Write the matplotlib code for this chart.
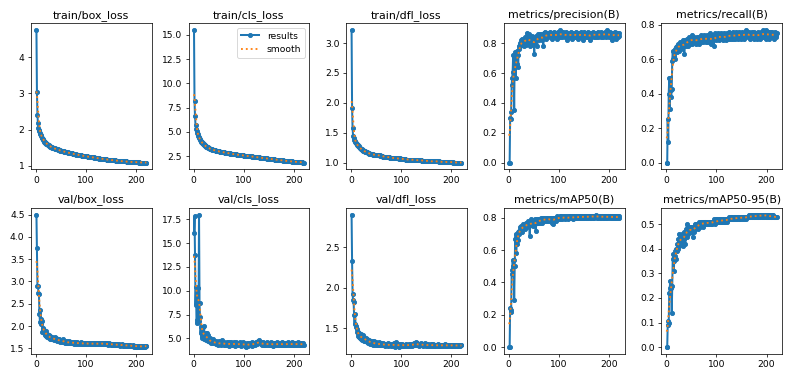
import numpy as np
import matplotlib
matplotlib.use("Agg")
import matplotlib.pyplot as plt

titles = ["train/box_loss", "train/cls_loss", "train/dfl_loss", "metrics/precision(B)", "metrics/recall(B)",
          "val/box_loss", "val/cls_loss", "val/dfl_loss", "metrics/mAP50(B)", "metrics/mAP50-95(B)"]

train_box_loss = [
    4.75, 3.05, 2.40, 2.17, 2.05, 2.00, 1.95, 1.91, 1.87, 1.84,
    1.81, 1.78, 1.76, 1.73, 1.71, 1.69, 1.67, 1.66, 1.64, 1.63,
    1.61, 1.60, 1.59, 1.58, 1.57, 1.56, 1.55, 1.54, 1.53, 1.52,
    1.52, 1.51, 1.50, 1.50, 1.49, 1.48, 1.48, 1.47, 1.47, 1.46,
    1.46, 1.45, 1.45, 1.44, 1.44, 1.43, 1.43, 1.42, 1.42, 1.42,
    1.41, 1.41, 1.40, 1.40, 1.40, 1.39, 1.39, 1.38, 1.38, 1.38,
    1.37, 1.37, 1.37, 1.36, 1.36, 1.36, 1.35, 1.35, 1.35, 1.34,
    1.34, 1.34, 1.33, 1.33, 1.33, 1.32, 1.32, 1.32, 1.32, 1.31,
    1.31, 1.31, 1.30, 1.30, 1.30, 1.30, 1.29, 1.29, 1.29, 1.29,
    1.28, 1.28, 1.28, 1.28, 1.27, 1.27, 1.27, 1.27, 1.26, 1.26,
    1.26, 1.26, 1.25, 1.25, 1.25, 1.25, 1.24, 1.24, 1.24, 1.24,
    1.24, 1.23, 1.23, 1.23, 1.23, 1.22, 1.22, 1.22, 1.22, 1.22,
    1.21, 1.21, 1.21, 1.21, 1.21, 1.20, 1.20, 1.20, 1.20, 1.20,
    1.19, 1.19, 1.19, 1.19, 1.19, 1.18, 1.18, 1.18, 1.18, 1.18,
    1.17, 1.17, 1.17, 1.17, 1.17, 1.17, 1.16, 1.16, 1.16, 1.16,
    1.16, 1.16, 1.15, 1.15, 1.15, 1.15, 1.15, 1.15, 1.14, 1.14,
    1.14, 1.14, 1.14, 1.14, 1.14, 1.13, 1.13, 1.13, 1.13, 1.13,
    1.13, 1.13, 1.12, 1.12, 1.12, 1.12, 1.12, 1.12, 1.12, 1.12,
    1.11, 1.11, 1.11, 1.11, 1.11, 1.11, 1.11, 1.11, 1.11, 1.11,
    1.11, 1.10, 1.10, 1.10, 1.10, 1.10, 1.10, 1.10, 1.10, 1.10,
    1.10, 1.10, 1.10, 1.10, 1.09, 1.10, 1.09, 1.09, 1.09, 1.09,
    1.09, 1.09, 1.09, 1.09, 1.09, 1.09, 1.09, 1.09, 1.09, 1.09]

train_cls_loss = [
    15.5, 8.2, 6.6, 5.7, 5.3, 5.1, 4.9, 4.75, 4.6, 4.5,
    4.4, 4.3, 4.2, 4.1, 4.0, 3.95, 3.88, 3.82, 3.76, 3.70,
    3.66, 3.61, 3.57, 3.53, 3.49, 3.46, 3.43, 3.40, 3.37, 3.33,
    3.30, 3.28, 3.26, 3.24, 3.22, 3.20, 3.18, 3.16, 3.15, 3.13,
    3.12, 3.10, 3.08, 3.07, 3.05, 3.04, 3.02, 3.01, 3.00, 2.99,
    2.98, 2.97, 2.96, 2.95, 2.94, 2.93, 2.92, 2.91, 2.90, 2.89,
    2.88, 2.87, 2.86, 2.85, 2.84, 2.83, 2.82, 2.81, 2.80, 2.79,
    2.78, 2.77, 2.76, 2.76, 2.75, 2.74, 2.73, 2.72, 2.71, 2.70,
    2.70, 2.69, 2.68, 2.67, 2.67, 2.66, 2.65, 2.64, 2.64, 2.63,
    2.62, 2.62, 2.61, 2.60, 2.60, 2.59, 2.58, 2.58, 2.57, 2.56,
    2.56, 2.55, 2.54, 2.54, 2.53, 2.52, 2.52, 2.51, 2.50, 2.50,
    2.49, 2.48, 2.48, 2.47, 2.46, 2.46, 2.45, 2.44, 2.44, 2.43,
    2.42, 2.42, 2.41, 2.40, 2.40, 2.39, 2.38, 2.38, 2.37, 2.36,
    2.36, 2.35, 2.34, 2.34, 2.33, 2.32, 2.32, 2.31, 2.30, 2.30,
    2.29, 2.28, 2.28, 2.27, 2.26, 2.26, 2.25, 2.25, 2.24, 2.23,
    2.23, 2.22, 2.21, 2.21, 2.20, 2.19, 2.19, 2.18, 2.17, 2.17,
    2.16, 2.15, 2.15, 2.14, 2.13, 2.13, 2.12, 2.11, 2.11, 2.10,
    2.09, 2.09, 2.08, 2.07, 2.07, 2.06, 2.05, 2.05, 2.04, 2.03,
    2.03, 2.02, 2.02, 2.01, 2.00, 2.00, 1.99, 1.99, 1.98, 1.98,
    1.97, 1.97, 1.96, 1.96, 1.95, 1.95, 1.94, 1.94, 1.93, 1.93,
    1.92, 1.92, 1.91, 1.91, 1.90, 1.90, 1.89, 1.89, 1.88, 1.88,
    1.87, 1.87, 1.86, 1.86, 1.85, 1.85, 1.85, 1.84, 1.84, 1.84]

train_dfl_loss = [
    3.22, 1.92, 1.57, 1.45, 1.41, 1.38, 1.36, 1.34, 1.33, 1.32,
    1.31, 1.30, 1.29, 1.28, 1.27, 1.26, 1.25, 1.24, 1.23, 1.23,
    1.22, 1.21, 1.21, 1.20, 1.20, 1.19, 1.19, 1.18, 1.18, 1.17,
    1.17, 1.17, 1.16, 1.16, 1.16, 1.15, 1.15, 1.15, 1.14, 1.14,
    1.14, 1.14, 1.14, 1.13, 1.13, 1.13, 1.13, 1.13, 1.13, 1.13,
    1.13, 1.13, 1.12, 1.12, 1.12, 1.12, 1.12, 1.11, 1.11, 1.11,
    1.11, 1.11, 1.10, 1.10, 1.10, 1.10, 1.10, 1.10, 1.10, 1.09,
    1.09, 1.09, 1.09, 1.09, 1.09, 1.09, 1.08, 1.08, 1.08, 1.08,
    1.08, 1.08, 1.08, 1.08, 1.08, 1.07, 1.07, 1.07, 1.07, 1.07,
    1.07, 1.07, 1.07, 1.07, 1.07, 1.06, 1.07, 1.06, 1.06, 1.06,
    1.06, 1.06, 1.06, 1.06, 1.06, 1.06, 1.06, 1.06, 1.05, 1.05,
    1.05, 1.05, 1.05, 1.05, 1.05, 1.05, 1.05, 1.05, 1.05, 1.05,
    1.05, 1.05, 1.05, 1.04, 1.04, 1.04, 1.04, 1.04, 1.04, 1.04,
    1.04, 1.04, 1.04, 1.04, 1.04, 1.04, 1.04, 1.04, 1.04, 1.04,
    1.03, 1.03, 1.03, 1.03, 1.03, 1.03, 1.03, 1.03, 1.03, 1.03,
    1.03, 1.03, 1.03, 1.03, 1.03, 1.02, 1.02, 1.02, 1.02, 1.02,
    1.02, 1.02, 1.02, 1.02, 1.02, 1.02, 1.02, 1.02, 1.02, 1.02,
    1.02, 1.02, 1.02, 1.02, 1.02, 1.01, 1.01, 1.01, 1.01, 1.01,
    1.01, 1.01, 1.01, 1.01, 1.01, 1.01, 1.01, 1.01, 1.01, 1.01,
    1.01, 1.01, 1.01, 1.01, 1.01, 1.01, 1.01, 1.01, 1.01, 1.01,
    1.01, 1.01, 1.00, 1.01, 1.00, 1.00, 1.00, 1.00, 1.00, 1.00,
    1.00, 1.00, 1.00, 1.00, 1.00, 1.00, 1.00, 1.00, 1.00, 1.00]

precision = [
    0.00, 0.00, 0.30, 0.29, 0.34, 0.52, 0.57, 0.61, 0.72, 0.63,
    0.35, 0.70, 0.74, 0.57, 0.70, 0.75, 0.66, 0.72, 0.64, 0.78,
    0.76, 0.80, 0.78, 0.82, 0.79, 0.81, 0.83, 0.80, 0.82, 0.78,
    0.81, 0.84, 0.80, 0.83, 0.79, 0.87, 0.82, 0.85, 0.80, 0.86,
    0.81, 0.83, 0.78, 0.84, 0.80, 0.85, 0.82, 0.79, 0.84, 0.81,
    0.73, 0.83, 0.80, 0.85, 0.82, 0.84, 0.78, 0.86, 0.83, 0.85,
    0.82, 0.84, 0.86, 0.83, 0.85, 0.82, 0.86, 0.84, 0.78, 0.87,
    0.85, 0.88, 0.84, 0.86, 0.83, 0.87, 0.85, 0.86, 0.84, 0.87,
    0.85, 0.86, 0.88, 0.84, 0.87, 0.85, 0.83, 0.87, 0.86, 0.85,
    0.88, 0.84, 0.86, 0.87, 0.85, 0.83, 0.86, 0.88, 0.85, 0.87,
    0.86, 0.84, 0.89, 0.85, 0.87, 0.86, 0.84, 0.88, 0.85, 0.86,
    0.87, 0.84, 0.86, 0.85, 0.88, 0.86, 0.82, 0.87, 0.85, 0.86,
    0.84, 0.87, 0.85, 0.88, 0.86, 0.83, 0.87, 0.85, 0.86, 0.84,
    0.87, 0.85, 0.86, 0.88, 0.84, 0.86, 0.85, 0.87, 0.83, 0.86,
    0.85, 0.87, 0.86, 0.84, 0.88, 0.85, 0.86, 0.87, 0.82, 0.86,
    0.88, 0.85, 0.86, 0.84, 0.87, 0.85, 0.86, 0.88, 0.84, 0.86,
    0.85, 0.82, 0.87, 0.86, 0.84, 0.87, 0.85, 0.86, 0.88, 0.84,
    0.86, 0.87, 0.85, 0.84, 0.87, 0.86, 0.85, 0.88, 0.84, 0.86,
    0.85, 0.87, 0.86, 0.84, 0.88, 0.85, 0.86, 0.87, 0.84, 0.86,
    0.87, 0.85, 0.88, 0.86, 0.84, 0.87, 0.89, 0.85, 0.86, 0.84,
    0.86, 0.88, 0.85, 0.87, 0.82, 0.86, 0.85, 0.87, 0.84, 0.86,
    0.88, 0.85, 0.86, 0.83, 0.87, 0.85, 0.86, 0.84, 0.87, 0.85]

recall = [
    0.00, 0.00, 0.25, 0.12, 0.40, 0.49, 0.31, 0.49, 0.42, 0.38,
    0.43, 0.59, 0.65, 0.60, 0.64, 0.62, 0.66, 0.60, 0.65, 0.67,
    0.64, 0.68, 0.66, 0.69, 0.65, 0.68, 0.70, 0.67, 0.69, 0.66,
    0.70, 0.68, 0.71, 0.67, 0.70, 0.63, 0.69, 0.71, 0.68, 0.70,
    0.72, 0.69, 0.70, 0.68, 0.71, 0.73, 0.70, 0.69, 0.72, 0.71,
    0.74, 0.69, 0.72, 0.70, 0.71, 0.73, 0.70, 0.72, 0.69, 0.71,
    0.73, 0.70, 0.72, 0.71, 0.69, 0.73, 0.71, 0.72, 0.74, 0.70,
    0.72, 0.71, 0.73, 0.70, 0.72, 0.74, 0.71, 0.73, 0.70, 0.72,
    0.71, 0.74, 0.72, 0.70, 0.73, 0.71, 0.75, 0.72, 0.69, 0.73,
    0.72, 0.70, 0.74, 0.71, 0.68, 0.73, 0.72, 0.75, 0.71, 0.73,
    0.74, 0.72, 0.75, 0.73, 0.71, 0.74, 0.72, 0.73, 0.75, 0.72,
    0.73, 0.74, 0.71, 0.73, 0.75, 0.72, 0.74, 0.73, 0.71, 0.74,
    0.72, 0.75, 0.73, 0.74, 0.72, 0.76, 0.73, 0.74, 0.72, 0.75,
    0.73, 0.74, 0.76, 0.72, 0.74, 0.73, 0.75, 0.72, 0.74, 0.76,
    0.73, 0.75, 0.72, 0.74, 0.76, 0.73, 0.75, 0.74, 0.72, 0.75,
    0.74, 0.76, 0.73, 0.75, 0.72, 0.74, 0.76, 0.73, 0.75, 0.77,
    0.74, 0.73, 0.75, 0.76, 0.73, 0.74, 0.72, 0.75, 0.74, 0.76,
    0.73, 0.75, 0.74, 0.72, 0.76, 0.74, 0.73, 0.75, 0.74, 0.72,
    0.75, 0.73, 0.76, 0.74, 0.73, 0.75, 0.72, 0.74, 0.76, 0.73,
    0.75, 0.74, 0.77, 0.73, 0.75, 0.76, 0.74, 0.72, 0.77, 0.75,
    0.73, 0.76, 0.74, 0.75, 0.72, 0.76, 0.74, 0.73, 0.75, 0.74,
    0.76, 0.73, 0.75, 0.74, 0.72, 0.75, 0.76, 0.74, 0.73, 0.75]

val_box_loss = [
    4.50, 3.75, 2.90, 2.90, 2.75, 2.72, 2.28, 2.10, 2.35, 2.15,
    2.05, 2.12, 1.87, 1.95, 1.86, 1.92, 1.84, 1.88, 1.80, 1.90,
    1.78, 1.83, 1.75, 1.81, 1.76, 1.74, 1.80, 1.72, 1.77, 1.73,
    1.71, 1.76, 1.70, 1.74, 1.72, 1.69, 1.75, 1.71, 1.68, 1.73,
    1.70, 1.67, 1.72, 1.69, 1.66, 1.70, 1.68, 1.65, 1.69, 1.67,
    1.64, 1.68, 1.66, 1.70, 1.65, 1.67, 1.63, 1.66, 1.64, 1.62,
    1.66, 1.63, 1.65, 1.61, 1.64, 1.66, 1.62, 1.64, 1.61, 1.65,
    1.63, 1.61, 1.64, 1.62, 1.60, 1.63, 1.65, 1.61, 1.63, 1.60,
    1.62, 1.64, 1.60, 1.62, 1.61, 1.63, 1.59, 1.62, 1.64, 1.61,
    1.60, 1.63, 1.61, 1.59, 1.62, 1.60, 1.63, 1.61, 1.59, 1.62,
    1.61, 1.59, 1.62, 1.60, 1.61, 1.63, 1.59, 1.61, 1.60, 1.62,
    1.60, 1.62, 1.59, 1.61, 1.60, 1.62, 1.60, 1.59, 1.61, 1.60,
    1.62, 1.60, 1.59, 1.61, 1.63, 1.60, 1.61, 1.59, 1.62, 1.60,
    1.61, 1.63, 1.60, 1.59, 1.61, 1.60, 1.62, 1.59, 1.61, 1.60,
    1.59, 1.61, 1.60, 1.58, 1.60, 1.62, 1.59, 1.60, 1.58, 1.60,
    1.59, 1.58, 1.60, 1.59, 1.57, 1.59, 1.60, 1.58, 1.59, 1.57,
    1.58, 1.60, 1.57, 1.58, 1.59, 1.57, 1.58, 1.56, 1.58, 1.57,
    1.59, 1.57, 1.56, 1.58, 1.57, 1.56, 1.58, 1.57, 1.55, 1.57,
    1.56, 1.58, 1.56, 1.55, 1.57, 1.56, 1.55, 1.57, 1.56, 1.55,
    1.56, 1.55, 1.57, 1.55, 1.56, 1.54, 1.56, 1.55, 1.54, 1.56,
    1.55, 1.54, 1.56, 1.55, 1.54, 1.55, 1.53, 1.55, 1.54, 1.56,
    1.54, 1.55, 1.53, 1.55, 1.54, 1.56, 1.54, 1.55, 1.55, 1.56]

val_cls_loss = [
    16.1, 17.8, 13.8, 8.5, 10.4, 6.6, 6.9, 10.3, 7.2, 6.8,
    18.0, 8.7, 7.3, 5.6, 6.2, 5.3, 5.0, 6.2, 5.4, 4.9,
    6.3, 5.2, 5.0, 5.6, 4.8, 5.6, 5.0, 4.7, 5.4, 4.9,
    4.7, 5.0, 4.6, 4.8, 4.5, 4.7, 4.6, 4.9, 4.5, 4.6,
    4.7, 4.5, 4.6, 4.4, 4.7, 4.5, 4.4, 4.6, 4.3, 4.5,
    4.7, 4.4, 4.5, 4.3, 4.6, 4.4, 4.8, 4.4, 4.5, 4.3,
    4.6, 4.4, 4.3, 4.5, 4.4, 4.6, 4.3, 4.5, 4.4, 4.2,
    4.6, 4.4, 4.5, 4.3, 4.6, 4.4, 4.3, 4.5, 4.4, 4.6,
    4.3, 4.5, 4.2, 4.4, 4.6, 4.3, 4.5, 4.4, 4.3, 4.5,
    4.4, 4.6, 4.3, 4.4, 4.2, 4.5, 4.4, 4.6, 4.3, 4.4,
    4.5, 4.3, 4.2, 4.4, 4.1, 4.3, 4.5, 4.2, 4.4, 4.3,
    4.5, 4.4, 4.3, 4.5, 4.4, 4.2, 4.6, 4.4, 4.3, 4.5,
    4.4, 4.3, 4.5, 4.4, 4.6, 4.5, 4.4, 4.6, 4.7, 4.5,
    4.8, 4.6, 4.5, 4.4, 4.6, 4.3, 4.5, 4.4, 4.6, 4.3,
    4.5, 4.4, 4.3, 4.5, 4.4, 4.6, 4.3, 4.4, 4.5, 4.3,
    4.4, 4.5, 4.3, 4.4, 4.6, 4.3, 4.4, 4.5, 4.2, 4.4,
    4.5, 4.3, 4.4, 4.5, 4.3, 4.4, 4.6, 4.3, 4.4, 4.5,
    4.3, 4.4, 4.5, 4.3, 4.4, 4.6, 4.3, 4.4, 4.5, 4.3,
    4.4, 4.5, 4.3, 4.4, 4.3, 4.5, 4.4, 4.6, 4.3, 4.4,
    4.5, 4.3, 4.4, 4.5, 4.3, 4.4, 4.6, 4.3, 4.4, 4.5,
    4.3, 4.4, 4.5, 4.3, 4.4, 4.5, 4.3, 4.4, 4.6, 4.3,
    4.4, 4.5, 4.3, 4.4, 4.5, 4.3, 4.4, 4.5, 4.4, 4.3]

val_dfl_loss = [
    2.90, 2.33, 1.92, 1.85, 1.83, 1.67, 1.55, 1.68, 1.52, 1.53,
    1.49, 1.46, 1.41, 1.45, 1.39, 1.44, 1.40, 1.38, 1.43, 1.37,
    1.40, 1.36, 1.42, 1.38, 1.35, 1.39, 1.37, 1.34, 1.38, 1.36,
    1.33, 1.37, 1.35, 1.32, 1.36, 1.34, 1.31, 1.35, 1.33, 1.32,
    1.34, 1.31, 1.33, 1.30, 1.32, 1.34, 1.31, 1.30, 1.33, 1.31,
    1.30, 1.32, 1.29, 1.31, 1.33, 1.30, 1.31, 1.29, 1.32, 1.30,
    1.31, 1.29, 1.30, 1.32, 1.29, 1.31, 1.30, 1.28, 1.30, 1.31,
    1.29, 1.30, 1.32, 1.28, 1.30, 1.29, 1.31, 1.29, 1.28, 1.30,
    1.31, 1.29, 1.28, 1.30, 1.32, 1.29, 1.27, 1.31, 1.33, 1.29,
    1.30, 1.28, 1.31, 1.29, 1.27, 1.30, 1.29, 1.31, 1.28, 1.30,
    1.29, 1.31, 1.28, 1.30, 1.29, 1.28, 1.30, 1.29, 1.31, 1.28,
    1.30, 1.29, 1.28, 1.30, 1.31, 1.29, 1.28, 1.30, 1.29, 1.31,
    1.30, 1.28, 1.31, 1.29, 1.30, 1.32, 1.29, 1.31, 1.33, 1.30,
    1.32, 1.30, 1.29, 1.31, 1.30, 1.28, 1.31, 1.29, 1.30, 1.32,
    1.29, 1.30, 1.28, 1.31, 1.29, 1.30, 1.32, 1.29, 1.30, 1.28,
    1.30, 1.29, 1.31, 1.28, 1.30, 1.29, 1.30, 1.28, 1.31, 1.29,
    1.30, 1.28, 1.29, 1.31, 1.28, 1.30, 1.29, 1.28, 1.30, 1.29,
    1.28, 1.30, 1.29, 1.31, 1.28, 1.29, 1.30, 1.28, 1.29, 1.30,
    1.29, 1.28, 1.30, 1.29, 1.28, 1.30, 1.29, 1.31, 1.28, 1.29,
    1.30, 1.28, 1.29, 1.30, 1.28, 1.29, 1.30, 1.29, 1.28, 1.30,
    1.29, 1.28, 1.30, 1.29, 1.28, 1.29, 1.30, 1.28, 1.29, 1.30,
    1.28, 1.29, 1.30, 1.28, 1.29, 1.30, 1.29, 1.28, 1.29, 1.29]

map50 = [
    0.00, 0.00, 0.24, 0.22, 0.23, 0.45, 0.48, 0.54, 0.50, 0.54,
    0.29, 0.50, 0.67, 0.70, 0.58, 0.64, 0.69, 0.71, 0.66, 0.72,
    0.70, 0.74, 0.72, 0.73, 0.75, 0.71, 0.74, 0.76, 0.73, 0.75,
    0.74, 0.76, 0.73, 0.77, 0.75, 0.74, 0.77, 0.76, 0.78, 0.75,
    0.77, 0.69, 0.76, 0.78, 0.79, 0.76, 0.77, 0.78, 0.75, 0.78,
    0.77, 0.79, 0.76, 0.72, 0.78, 0.77, 0.79, 0.78, 0.77, 0.79,
    0.78, 0.77, 0.79, 0.78, 0.80, 0.77, 0.79, 0.78, 0.80, 0.79,
    0.78, 0.79, 0.80, 0.78, 0.79, 0.80, 0.79, 0.78, 0.80, 0.79,
    0.79, 0.80, 0.78, 0.79, 0.80, 0.77, 0.79, 0.80, 0.76, 0.79,
    0.80, 0.79, 0.80, 0.78, 0.80, 0.79, 0.81, 0.80, 0.79, 0.80,
    0.80, 0.79, 0.81, 0.80, 0.81, 0.80, 0.79, 0.80, 0.81, 0.80,
    0.80, 0.81, 0.79, 0.80, 0.80, 0.81, 0.80, 0.80, 0.79, 0.81,
    0.80, 0.80, 0.81, 0.80, 0.80, 0.81, 0.80, 0.79, 0.81, 0.80,
    0.81, 0.80, 0.80, 0.81, 0.80, 0.81, 0.80, 0.81, 0.80, 0.80,
    0.81, 0.80, 0.81, 0.80, 0.81, 0.81, 0.80, 0.81, 0.80, 0.81,
    0.80, 0.81, 0.81, 0.80, 0.81, 0.80, 0.81, 0.81, 0.80, 0.81,
    0.81, 0.80, 0.81, 0.81, 0.80, 0.81, 0.81, 0.80, 0.81, 0.81,
    0.80, 0.81, 0.81, 0.82, 0.81, 0.80, 0.81, 0.81, 0.80, 0.81,
    0.81, 0.80, 0.81, 0.81, 0.80, 0.81, 0.81, 0.80, 0.81, 0.81,
    0.80, 0.81, 0.81, 0.80, 0.81, 0.81, 0.80, 0.81, 0.81, 0.80,
    0.81, 0.81, 0.80, 0.81, 0.80, 0.81, 0.81, 0.80, 0.81, 0.80,
    0.81, 0.80, 0.81, 0.80, 0.81, 0.80, 0.81, 0.80, 0.80, 0.81]

map50_95 = [
    0.00, 0.00, 0.09, 0.105, 0.10, 0.22, 0.24, 0.27, 0.24, 0.25,
    0.14, 0.25, 0.36, 0.38, 0.31, 0.35, 0.37, 0.39, 0.36, 0.40,
    0.39, 0.42, 0.40, 0.44, 0.41, 0.46, 0.43, 0.42, 0.45, 0.44,
    0.46, 0.43, 0.45, 0.41, 0.47, 0.44, 0.46, 0.42, 0.48, 0.47,
    0.50, 0.45, 0.48, 0.46, 0.49, 0.47, 0.48, 0.49, 0.47, 0.48,
    0.49, 0.47, 0.45, 0.48, 0.49, 0.47, 0.50, 0.48, 0.49, 0.50,
    0.49, 0.50, 0.48, 0.50, 0.49, 0.51, 0.50, 0.49, 0.51, 0.50,
    0.51, 0.50, 0.51, 0.49, 0.51, 0.50, 0.51, 0.51, 0.50, 0.51,
    0.50, 0.51, 0.51, 0.50, 0.51, 0.50, 0.51, 0.51, 0.50, 0.51,
    0.51, 0.50, 0.51, 0.51, 0.52, 0.51, 0.50, 0.51, 0.52, 0.51,
    0.51, 0.52, 0.51, 0.51, 0.52, 0.51, 0.52, 0.51, 0.51, 0.52,
    0.52, 0.51, 0.52, 0.52, 0.51, 0.52, 0.52, 0.51, 0.52, 0.52,
    0.52, 0.51, 0.52, 0.52, 0.53, 0.52, 0.52, 0.52, 0.53, 0.52,
    0.52, 0.53, 0.52, 0.52, 0.53, 0.52, 0.53, 0.52, 0.52, 0.53,
    0.53, 0.52, 0.53, 0.53, 0.52, 0.53, 0.53, 0.52, 0.53, 0.53,
    0.52, 0.53, 0.53, 0.53, 0.52, 0.53, 0.53, 0.53, 0.53, 0.52,
    0.53, 0.53, 0.53, 0.54, 0.53, 0.53, 0.53, 0.53, 0.54, 0.53,
    0.53, 0.53, 0.54, 0.53, 0.53, 0.54, 0.53, 0.53, 0.54, 0.53,
    0.54, 0.53, 0.53, 0.54, 0.53, 0.54, 0.53, 0.54, 0.54, 0.53,
    0.54, 0.53, 0.54, 0.54, 0.53, 0.54, 0.54, 0.53, 0.54, 0.54,
    0.53, 0.54, 0.53, 0.54, 0.53, 0.53, 0.54, 0.53, 0.53, 0.54,
    0.53, 0.53, 0.54, 0.53, 0.53, 0.53, 0.53, 0.53, 0.53, 0.53]

series = [train_box_loss, train_cls_loss, train_dfl_loss, precision, recall,
          val_box_loss, val_cls_loss, val_dfl_loss, map50, map50_95]


def gaussian_smooth(y, sigma=3.0):
    y = np.asarray(y, dtype=float)
    r = int(4 * sigma + 0.5)
    k = np.arange(-r, r + 1)
    w = np.exp(-0.5 * (k / sigma) ** 2)
    w /= w.sum()
    yp = np.pad(y, r, mode="symmetric")
    return np.convolve(yp, w, mode="valid")


dpi = 66
fig, axes = plt.subplots(2, 5, figsize=(792 / dpi, 379 / dpi), dpi=dpi, tight_layout=True)
axes = axes.ravel()
for i, (ax, y, t) in enumerate(zip(axes, series, titles)):
    x = np.arange(1, len(y) + 1)
    ax.plot(x, y, marker=".", label="results", linewidth=2.2, markersize=9)
    ax.plot(x, gaussian_smooth(y), ":", label="smooth", linewidth=2)
    ax.set_title(t, fontsize=12)
axes[1].legend()
fig.savefig("out.png", dpi=dpi)
